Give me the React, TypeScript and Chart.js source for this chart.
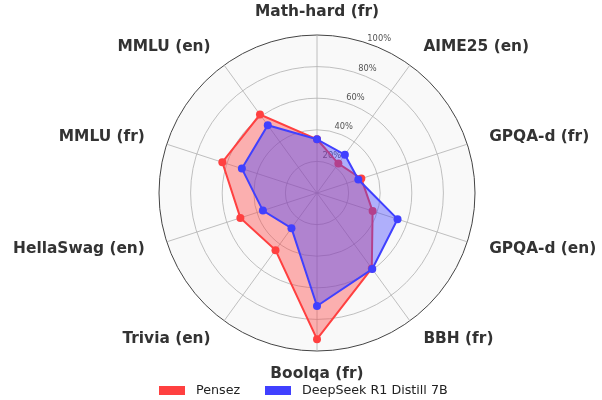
import React, { useEffect, useRef } from "react";
import { Chart, registerables } from "chart.js";

Chart.register(...registerables);

const categories = [
  "Math-hard (fr)",
  "AIME25 (en)",
  "GPQA-d (fr)",
  "GPQA-d (en)",
  "BBH (fr)",
  "Boolqa (fr)",
  "Trivia (en)",
  "HellaSwag (en)",
  "MMLU (fr)",
  "MMLU (en)",
];

const pensezValues = [34, 23, 29.5, 37, 59, 92.5, 44.7, 51, 63, 61.4];
const deepseekValues = [34, 30, 27.5, 53.6, 59.5, 71.5, 27.5, 36, 50, 53];

const tickValues = [20, 40, 60, 80, 100];
const tickLabels = ["20%", "40%", "60%", "80%", "100%"];

const seriesNames = ["Pensez", "DeepSeek R1 Distill 7B"];
const seriesColors = ["#ff4040", "#4040ff"];
const seriesFills = ["rgba(255,64,64,0.4)", "rgba(64,64,255,0.4)"];

const FONT = "'DejaVu Sans', sans-serif";

const labelsPlugin = {
  id: "customLabels",
  beforeDatasetsDraw(chart: any) {
    const scale = chart.scales.r;
    const ctx = chart.ctx;
    ctx.save();
    ctx.font = `8.3px ${FONT}`;
    ctx.fillStyle = "#555555";
    ctx.textAlign = "center";
    ctx.textBaseline = "middle";
    const ang = (22 * Math.PI) / 180;
    tickValues.forEach((v, i) => {
      const d = scale.getDistanceFromCenterForValue(v) + 8;
      const x = scale.xCenter + Math.sin(ang) * d;
      const y = scale.yCenter - Math.cos(ang) * d;
      ctx.fillText(tickLabels[i], x, y);
    });
    ctx.restore();
  },
  afterDraw(chart: any) {
    const scale = chart.scales.r;
    const ctx = chart.ctx;
    ctx.save();
    ctx.font = `bold 15.4px ${FONT}`;
    ctx.fillStyle = "#333333";
    ctx.textBaseline = "middle";
    const n = categories.length;
    const dist = scale.getDistanceFromCenterForValue(100) + 23;
    categories.forEach((lab, i) => {
      const p = scale.getPointPosition(i, dist);
      const deg = (i * 360) / n;
      if (deg === 0 || deg === 180) ctx.textAlign = "center";
      else if (deg < 180) ctx.textAlign = "left";
      else ctx.textAlign = "right";
      ctx.fillText(lab, p.x, p.y);
    });

    // legend
    ctx.font = `12.7px ${FONT}`;
    ctx.textAlign = "left";
    const boxX = [159, 265];
    const textX = [196, 302];
    seriesNames.forEach((name, i) => {
      ctx.fillStyle = seriesColors[i];
      ctx.fillRect(boxX[i], 386, 26, 9);
      ctx.fillStyle = "#222222";
      ctx.fillText(name, textX[i], 391);
    });
    ctx.restore();
  },
};

export default function App() {
  const ref = useRef<HTMLCanvasElement | null>(null);

  useEffect(() => {
    if (!ref.current) return;
    const chart = new Chart(ref.current, {
      type: "radar",
      data: {
        labels: categories,
        datasets: [
          {
            label: seriesNames[0],
            data: pensezValues,
            borderColor: seriesColors[0],
            backgroundColor: seriesFills[0],
            pointBackgroundColor: seriesColors[0],
            pointBorderColor: seriesColors[0],
            pointBorderWidth: 0,
            pointRadius: 4,
            borderWidth: 2,
            fill: true,
            order: 1,
          },
          {
            label: seriesNames[1],
            data: deepseekValues,
            borderColor: seriesColors[1],
            backgroundColor: seriesFills[1],
            pointBackgroundColor: seriesColors[1],
            pointBorderColor: seriesColors[1],
            pointBorderWidth: 0,
            pointRadius: 4,
            borderWidth: 2,
            fill: true,
            order: 0,
          },
        ],
      },
      options: {
        responsive: false,
        animation: false,
        layout: { padding: { left: 159, right: 127, top: 35, bottom: 49 } },
        plugins: {
          legend: { display: false },
          tooltip: { enabled: false },
        },
        scales: {
          r: {
            min: 0,
            max: 100,
            backgroundColor: "#f9f9f9",
            ticks: { display: false, stepSize: 20 },
            pointLabels: { display: false },
            grid: {
              circular: true,
              color: (c: any) => (c.index === 5 ? "#444444" : "#b0b0b0"),
              lineWidth: (c: any) => (c.index === 5 ? 1 : 0.8),
            },
            angleLines: { color: "#b0b0b0", lineWidth: 0.8 },
          },
        },
      },
      plugins: [labelsPlugin],
    });
    return () => chart.destroy();
  }, []);

  return (
    <div style={{ position: "absolute", left: 0, top: 0, width: 602, height: 400, background: "#fff" }}>
      <canvas ref={ref} width={602} height={400} style={{ display: "block" }} />
    </div>
  );
}
